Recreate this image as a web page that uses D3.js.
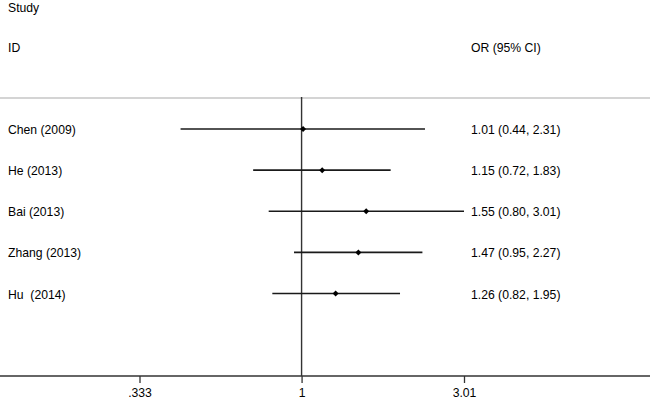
<!DOCTYPE html>
<html><head><meta charset="utf-8">
<script src="https://cdn.jsdelivr.net/npm/d3@7"></script>
<style>html,body{margin:0;padding:0;background:#fff}svg{display:block}text{font-family:"Liberation Sans",Arial,sans-serif;fill:#000;white-space:pre}</style>
</head><body>
<svg id="c" width="650" height="406"></svg>
<script>
const studies = ["Chen (2009)", "He (2013)", "Bai (2013)", "Zhang (2013)", "Hu  (2014)"];
const orValues = [1.01, 1.15, 1.55, 1.47, 1.26];
const lowerCI = [0.44, 0.72, 0.80, 0.95, 0.82];
const upperCI = [2.31, 1.83, 3.01, 2.27, 1.95];
const ciLabels = ["1.01 (0.44, 2.31)", "1.15 (0.72, 1.83)", "1.55 (0.80, 3.01)", "1.47 (0.95, 2.27)", "1.26 (0.82, 1.95)"];
const tickValues = [0.333, 1, 3.01];
const tickLabels = [".333", "1", "3.01"];

const svg = d3.select("#c");
const fs = 12.2;
const x = d3.scaleLog().domain([0.333, 3.01]).range([139.5, 464]);
const y = d3.scalePoint().domain(studies).range([129, 293.5]);
const axisY = 376;

// header
svg.append("text").attr("x", 8).attr("y", 11.5).attr("font-size", fs).text("Study");
svg.append("text").attr("x", 8).attr("y", 52).attr("font-size", fs).text("ID");
svg.append("text").attr("x", 471).attr("y", 52).attr("font-size", fs).text("OR (95% CI)");
svg.append("line").attr("x1", 0).attr("x2", 650).attr("y1", 98).attr("y2", 98)
  .attr("stroke", "#d4d4d4").attr("stroke-width", 2);

// null line
svg.append("line").attr("x1", x(1)).attr("x2", x(1)).attr("y1", 97).attr("y2", axisY)
  .attr("stroke", "#333").attr("stroke-width", 1.4);

// axis
const axis = d3.axisBottom(x).tickValues(tickValues).tickSize(7)
  .tickFormat((d, i) => tickLabels[i]);
const g = svg.append("g").attr("transform", `translate(0,${axisY})`).call(axis);
g.select(".domain").remove();
g.selectAll(".tick line").attr("stroke", "#333").attr("stroke-width", 1.3);
g.selectAll(".tick text").attr("font-size", fs).attr("font-family", '"Liberation Sans",Arial,sans-serif')
  .attr("fill", "#000").attr("dy", null).attr("y", 21);
svg.append("line").attr("x1", 0).attr("x2", 650).attr("y1", axisY).attr("y2", axisY)
  .attr("stroke", "#333").attr("stroke-width", 1.4);

// rows
const rows = svg.append("g").selectAll("g").data(studies).join("g");
rows.append("text").attr("x", 8).attr("y", d => y(d) + 5).attr("font-size", fs).text(d => d);
rows.append("text").attr("x", 471).attr("y", d => y(d) + 5).attr("font-size", fs).text((d, i) => ciLabels[i]);
rows.append("line")
  .attr("x1", (d, i) => x(lowerCI[i])).attr("x2", (d, i) => x(upperCI[i]))
  .attr("y1", d => y(d)).attr("y2", d => y(d))
  .attr("stroke", "#1a1a1a").attr("stroke-width", 1.6);
rows.append("path")
  .attr("d", (d, i) => { const cx = x(orValues[i]), cy = y(d), r = 3; return `M${cx},${cy-r}L${cx+r},${cy}L${cx},${cy+r}L${cx-r},${cy}Z`; })
  .attr("fill", "#000");
</script>
</body></html>
